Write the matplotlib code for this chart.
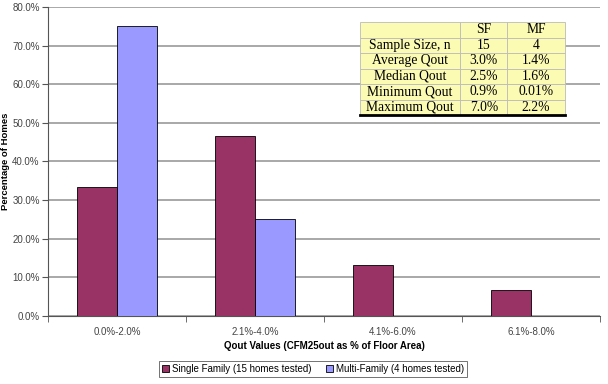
import matplotlib.pyplot as plt
import numpy as np

plt.rcParams['font.family'] = ['Liberation Sans', 'DejaVu Sans']

categories = ['0.0%-2.0%', '2.1%-4.0%', '4.1%-6.0%', '6.1%-8.0%']
single_family = [33.3, 46.7, 13.3, 6.7]
multi_family = [75.0, 25.0, 0.0, 0.0]

table_rows = ['Sample Size, n', 'Average Qout', 'Median Qout', 'Minimum Qout', 'Maximum Qout']
table_sf = ['15', '3.0%', '2.5%', '0.9%', '7.0%']
table_mf = ['4', '1.4%', '1.6%', '0.01%', '2.2%']

fig = plt.figure(figsize=(6.08, 3.84), dpi=100)
ax = fig.add_axes([0.079, 0.177, 0.908, 0.805])

x = np.arange(len(categories))
w = 0.29
ax.bar(x - w / 2, single_family, w, color='#993366', edgecolor='black', linewidth=0.6,
       label='Single Family (15 homes tested)', zorder=3)
ax.bar(x + w / 2, multi_family, w, color='#9999ff', edgecolor='black', linewidth=0.6,
       label='Multi-Family (4 homes tested)', zorder=3)

ax.set_xlim(-0.5, len(categories) - 0.5)
ax.set_ylim(0, 80)
ax.set_yticks(np.arange(0, 81, 10))
ax.set_yticklabels([f'{v:.1f}%' for v in np.arange(0, 81, 10)], color='#444444', fontsize=7)
ax.set_xticks(x)
ax.set_xticklabels(categories, color='#444444', fontsize=7)
ax.set_xticks(np.arange(-0.5, len(categories), 1), minor=True)
ax.tick_params(axis='x', which='major', length=0, pad=8)
ax.tick_params(axis='x', which='minor', length=4, color='#555555')
ax.tick_params(axis='y', length=4, color='#555555', pad=2)
ax.yaxis.grid(True, color='#999999', linewidth=1.2, zorder=0)
ax.spines['top'].set_visible(False)
ax.spines['right'].set_visible(False)
ax.spines['left'].set_color('#555555')
ax.spines['bottom'].set_color('#555555')

ax.set_ylabel('Percentage of Homes', fontsize=6.8, fontweight='bold')
ax.yaxis.set_label_coords(-0.068, 0.5)
ax.set_xlabel('Qout Values (CFM25out as % of Floor Area)', fontsize=7, fontweight='bold', labelpad=3)

cell_text = [['', 'SF', 'MF']] + [[r, s, m] for r, s, m in zip(table_rows, table_sf, table_mf)]
tbl = ax.table(cellText=cell_text, cellLoc='center', bbox=[0.565, 0.650, 0.371, 0.301],
               colWidths=[0.49, 0.23, 0.28], zorder=5)
tbl.auto_set_font_size(False)
for (r, c), cell in tbl.get_celld().items():
    cell.set_facecolor('#fbfbb4')
    cell.set_edgecolor('#bbbbbb')
    cell.set_linewidth(0.6)
    cell.get_text().set_fontfamily(['Liberation Serif', 'DejaVu Serif'])
    cell.get_text().set_fontsize(9.8)
# thick bottom rule
ax.plot([0.565, 0.936], [0.650, 0.650], transform=ax.transAxes, color='black',
        linewidth=2, zorder=6, clip_on=False)

leg = fig.legend(loc='lower center', bbox_to_anchor=(0.515, 0.005), ncol=2, fontsize=7,
                 frameon=True, fancybox=False, edgecolor='#333333', handlelength=0.7,
                 handleheight=0.7, handletextpad=0.3, columnspacing=1.5, borderpad=0.3)
leg.get_frame().set_linewidth(0.6)

fig.savefig('out.png', dpi=100)
